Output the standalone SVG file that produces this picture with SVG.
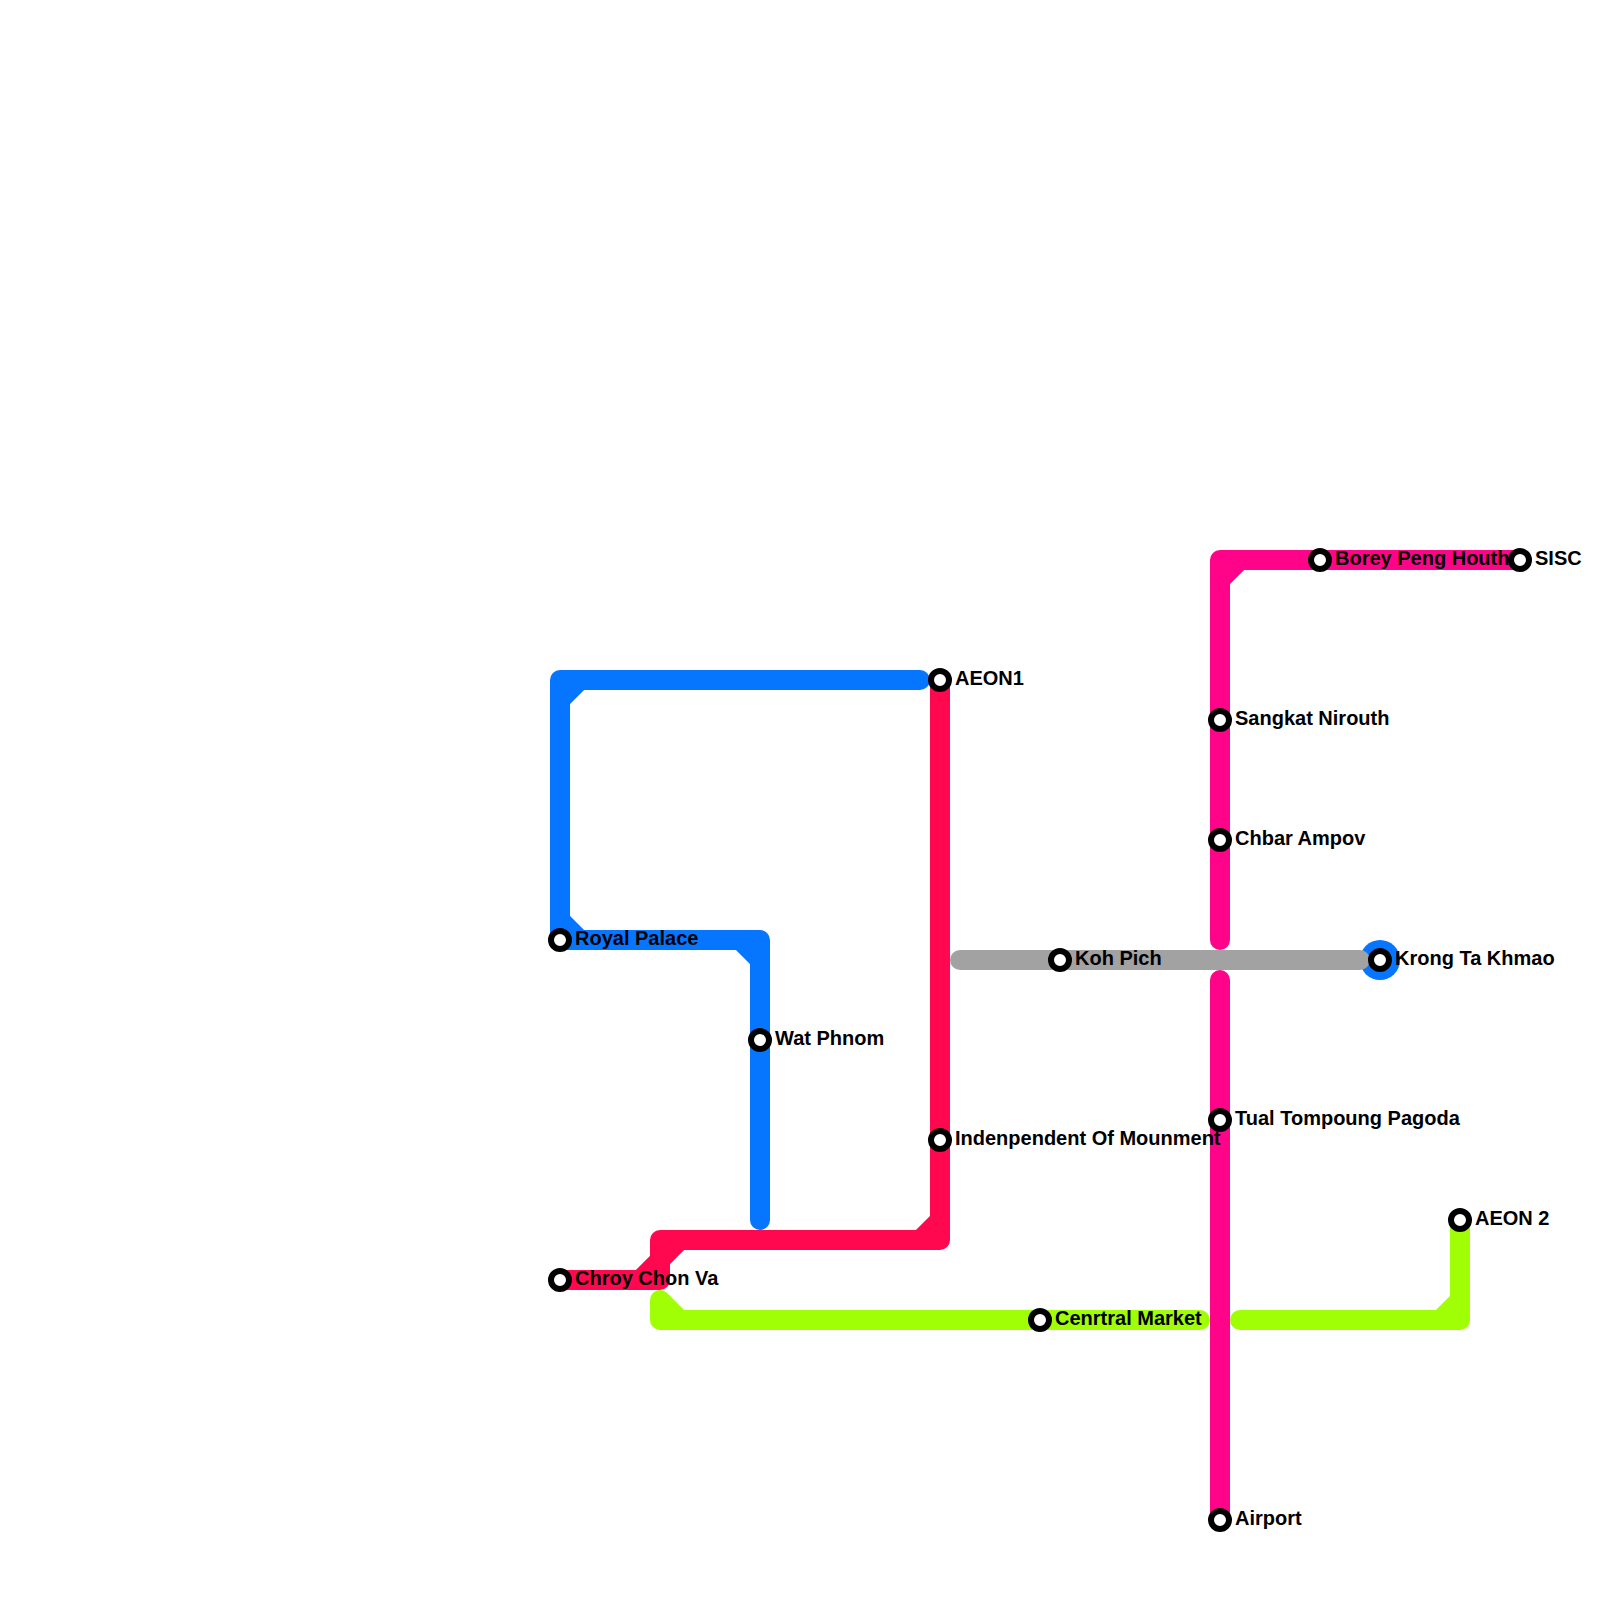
<svg xmlns="http://www.w3.org/2000/svg" width="1600" height="1600" viewBox="0 0 1600 1600">
<style>
.l{fill:none;stroke-width:20;stroke-linecap:round;stroke-linejoin:round}
.b{stroke:#0675ff}.r{stroke:#ff0850}.p{stroke:#ff0488}.g{stroke:#a0ff05}.y{stroke:#a2a2a2}
.s{fill:#fff;stroke:#000;stroke-width:6}
text{font-family:"Liberation Sans",Arial,sans-serif;font-weight:700;font-size:20px;fill:#000}
</style>
<rect width="1600" height="1600" fill="#fff"/>
<g id="connectors">
<path class="l b" d="M920 680H560V940H760V1220M560 700L580 680M560 920L580 940M740 940L760 960"/>
<path class="l r" d="M560 1280H660V1240H940V680M640 1280L680 1240M920 1240L940 1220"/>
<path class="l p" d="M1520 560H1220V940M1220 580L1240 560M1220 980V1520"/>
<path class="l g" d="M660 1300V1320H1200M660 1300L680 1320M1240 1320H1460V1220M1440 1320L1460 1300"/>
<circle cx="1380" cy="960" r="20" fill="#0675ff"/>
<path class="l y" d="M960 960H1360"/>
</g>
<g id="royal-palace"><circle class="s" cx="560" cy="940" r="9"/><text x="575" y="945">Royal Palace</text></g>
<g id="wat-phnom"><circle class="s" cx="760" cy="1040" r="9"/><text x="775" y="1045">Wat Phnom</text></g>
<g id="chroy-chon-va"><circle class="s" cx="560" cy="1280" r="9"/><text x="575" y="1285">Chroy Chon Va</text></g>
<g id="aeon1"><circle class="s" cx="940" cy="680" r="9"/><text x="955" y="685">AEON1</text></g>
<g id="independent"><circle class="s" cx="940" cy="1140" r="9"/><text x="955" y="1145">Indenpendent Of Mounment</text></g>
<g id="koh-pich"><circle class="s" cx="1060" cy="960" r="9"/><text x="1075" y="965">Koh Pich</text></g>
<g id="central-market"><circle class="s" cx="1040" cy="1320" r="9"/><text x="1055" y="1325">Cenrtral Market</text></g>
<g id="sangkat-nirouth"><circle class="s" cx="1220" cy="720" r="9"/><text x="1235" y="725">Sangkat Nirouth</text></g>
<g id="chbar-ampov"><circle class="s" cx="1220" cy="840" r="9"/><text x="1235" y="845">Chbar Ampov</text></g>
<g id="tual-tompoung"><circle class="s" cx="1220" cy="1120" r="9"/><text x="1235" y="1125">Tual Tompoung Pagoda</text></g>
<g id="airport"><circle class="s" cx="1220" cy="1520" r="9"/><text x="1235" y="1525">Airport</text></g>
<g id="borey-peng-houth"><circle class="s" cx="1320" cy="560" r="9"/><text x="1335" y="565">Borey Peng Houth</text></g>
<g id="sisc"><circle class="s" cx="1520" cy="560" r="9"/><text x="1535" y="565">SISC</text></g>
<g id="krong-ta-khmao"><circle class="s" cx="1380" cy="960" r="9"/><text x="1395" y="965">Krong Ta Khmao</text></g>
<g id="aeon-2"><circle class="s" cx="1460" cy="1220" r="9"/><text x="1475" y="1225">AEON 2</text></g>
</svg>
